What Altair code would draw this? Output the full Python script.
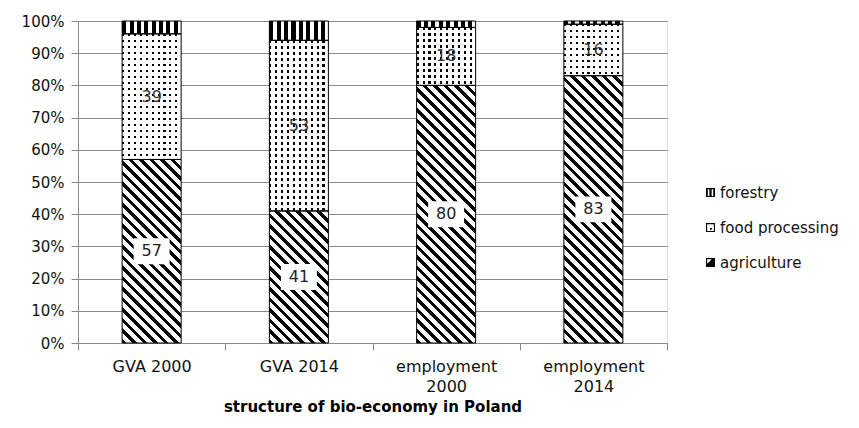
import altair as alt
import pandas as pd

# ---- data ----
categories = ["GVA 2000", "GVA 2014", "employment 2000", "employment 2014"]
series_names = ["agriculture", "food processing", "forestry"]
agriculture = [57, 41, 80, 83]
food_processing = [39, 53, 18, 16]
forestry = [4, 6, 2, 1]
y_ticks = [0, 10, 20, 30, 40, 50, 60, 70, 80, 90, 100]
legend_order = ["forestry", "food processing", "agriculture"]

# ---- layout / style ----
W, H, BAR = 589, 322, 59
FONT = "DejaVu Sans"
GRID = "#8a8a8a"

rows = []
for i, c in enumerate(categories):
    start = 0
    for s, vals in zip(series_names, [agriculture, food_processing, forestry]):
        v = vals[i]
        rows.append(dict(category=c, series=s, value=v, start=start,
                         end=start + v, mid=start + v / 2.0))
        start += v
df = pd.DataFrame(rows)

x_axis = alt.Axis(
    title="structure of bio-economy in Poland", titleFont=FONT, titleFontSize=15,
    titleFontWeight="bold", titleColor="#000", titlePadding=5,
    labelFont=FONT, labelFontSize=16, labelColor="#111", labelAngle=0,
    labelLineHeight=20, labelPadding=8, labelBaseline="top",
    labelExpr="indexof(datum.label, 'employment') == 0 ? split(datum.label, ' ') : datum.label",
    tickBand="extent", tickSize=7, tickColor=GRID, domainColor=GRID, grid=False,
)
y_axis = alt.Axis(
    title=None, values=y_ticks, labelExpr="datum.value + '%'",
    labelFont=FONT, labelFontSize=15, labelColor="#111", labelPadding=7,
    tickSize=7, tickColor=GRID, domainColor=GRID, grid=True, gridColor=GRID,
)


def X():
    return alt.X("category:N", sort=categories,
                 scale=alt.Scale(domain=categories, paddingInner=0, paddingOuter=0),
                 axis=x_axis)


def Y(field):
    return alt.Y(field, type="quantitative",
                 scale=alt.Scale(domain=[0, 100], nice=False), axis=y_axis)


def stops(n, frac, on, off):
    out = []
    k = 0
    while k < n:
        o1 = min(k / n, 1.0)
        o2 = min((k + frac) / n, 1.0)
        o3 = min((k + 1) / n, 1.0)
        out += [alt.GradientStop(color=on, offset=o1), alt.GradientStop(color=on, offset=o2),
                alt.GradientStop(color=off, offset=o2), alt.GradientStop(color=off, offset=o3)]
        k += 1
    return out


def diag_gradient(h, w=BAR, period=10.5, frac=0.42):
    r = h / w
    a = (1 + r) / (1 + r * r)
    n = (w + h) / period
    return alt.Gradient(gradient="linear", x1=0, y1=1, x2=a, y2=1 - a * r,
                        stops=stops(n, frac, "black", "white"))


def vert_gradient(n, frac, on="black", off="white"):
    return alt.Gradient(gradient="linear", x1=0, y1=0, x2=1, y2=0,
                        stops=stops(n, frac, on, off))


def horiz_overlay(h, period=6.0, gap=2.2):
    n = h / period
    return alt.Gradient(gradient="linear", x1=0, y1=0, x2=0, y2=1,
                        stops=stops(n, gap / period, "rgba(255,255,255,0)", "white"))


base = alt.Chart(df)
layers = []

# agriculture: diagonal hatch, one layer per bar
for i, c in enumerate(categories):
    h = agriculture[i] / 100.0 * H
    layers.append(
        base.transform_filter((alt.datum.category == c) & (alt.datum.series == "agriculture"))
        .mark_bar(size=BAR, color=diag_gradient(h), strokeWidth=0)
        .encode(x=X(), y=Y("start"), y2="end")
    )

# food processing: dotted = vertical thin stripes under white horizontal overlay
layers.append(
    base.transform_filter(alt.datum.series == "food processing")
    .mark_bar(size=BAR, color=vert_gradient(10, 0.36), strokeWidth=0)
    .encode(x=X(), y=Y("start"), y2="end")
)
for i, c in enumerate(categories):
    h = food_processing[i] / 100.0 * H
    layers.append(
        base.transform_filter((alt.datum.category == c) & (alt.datum.series == "food processing"))
        .mark_bar(size=BAR, color=horiz_overlay(h), strokeWidth=0)
        .encode(x=X(), y=Y("start"), y2="end")
    )

# forestry: vertical stripes
layers.append(
    base.transform_filter(alt.datum.series == "forestry")
    .mark_bar(size=BAR, color=vert_gradient(8, 0.55), strokeWidth=0)
    .encode(x=X(), y=Y("start"), y2="end")
)

# outlines
layers.append(
    base.mark_bar(size=BAR, fill="transparent", stroke="black", strokeWidth=1)
    .encode(x=X(), y=Y("start"), y2="end")
)

# white boxes behind agriculture labels
box_path = "M-1,-0.72H1V0.72H-1Z"
layers.append(
    base.transform_filter(alt.datum.series == "agriculture")
    .mark_point(shape=box_path, size=1296, filled=True, fill="white", opacity=1, strokeWidth=0)
    .encode(x=X(), y=Y("mid"))
)
layers.append(
    base.transform_filter(alt.datum.series == "agriculture")
    .mark_text(font=FONT, fontSize=16, color="#222")
    .encode(x=X(), y=Y("mid"), text="value:Q")
)
layers.append(
    base.transform_filter(alt.datum.series == "food processing")
    .mark_text(font=FONT, fontSize=16, color="#333")
    .encode(x=X(), y=Y("mid"), text="value:Q")
)

# legend (empty data layer, shapes drawn as small patterned squares)
legend_shapes = [
    "M-1,-1H1V1H-1Z M-0.6,-0.75V0.75H-0.25V-0.75Z M0.25,-0.75V0.75H0.6V-0.75Z",
    "M-1,-1H1V1H-1Z M-0.75,-0.75V0.75H0.75V-0.75Z M-0.1,0.1H0.3V0.5H-0.1Z",
    "M-1,-1H1V1H-1Z M-0.75,-0.75L-0.75,0.3L0.3,-0.75Z",
]
leg = alt.Legend(orient="none", legendX=625, legendY=164, title=None,
                 labelFont=FONT, labelFontSize=15, labelColor="#111",
                 symbolSize=81, rowPadding=19, labelOffset=2, padding=0,
                 symbolOpacity=1, symbolStrokeWidth=0)
legend_df = pd.DataFrame({"series": legend_order})
layers.append(
    alt.Chart(legend_df).transform_filter("false")
    .mark_point(filled=True, opacity=1)
    .encode(
        color=alt.Color("series:N", scale=alt.Scale(domain=legend_order, range=["black"] * 3), legend=leg),
        shape=alt.Shape("series:N", scale=alt.Scale(domain=legend_order, range=legend_shapes), legend=leg),
    )
)

chart = (
    alt.layer(*layers)
    .properties(width=W, height=H, autosize=alt.AutoSizeParams(type="none"),
                padding={"left": 70, "top": 13, "right": 184, "bottom": 77},
                background="white")
    .configure_view(stroke=None)
    .configure(font=FONT)
)

chart.save("out.html", embed_options={"renderer": "svg", "actions": False})
